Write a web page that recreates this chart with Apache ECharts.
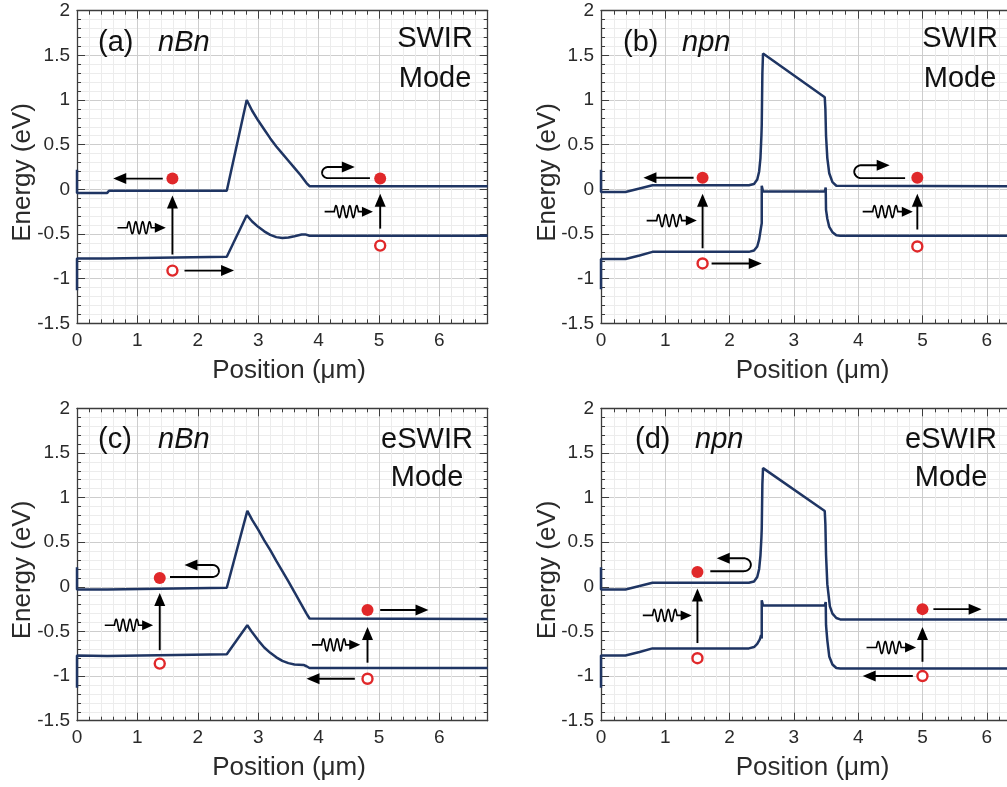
<!DOCTYPE html>
<html><head><meta charset="utf-8">
<script src="https://cdn.jsdelivr.net/npm/echarts@6.0.0/dist/echarts.min.js"></script>
<style>html,body{margin:0;padding:0;background:#fff}#c{width:1007px;height:787px}</style>
</head><body><div id="c"></div>
<script>
// ---------- DATA ----------
const panelLabels = ['(a)', '(b)', '(c)', '(d)'];
const structures = ['nBn', 'npn', 'nBn', 'npn'];
const modes = ['SWIR', 'SWIR', 'eSWIR', 'eSWIR'];
const xTitle = 'Position (μm)';
const yTitle = 'Energy (eV)';

// (a) nBn, SWIR mode
const cbA = [[0,0.22],[0,-0.04],[0.5,-0.04],[0.53,-0.015],[2.48,-0.015],[2.81,1.0],[2.9,0.88],[3.0,0.77],[3.1,0.67],[3.2,0.57],[3.3,0.48],[3.4,0.40],[3.5,0.32],[3.6,0.24],[3.7,0.16],[3.8,0.07],[3.85,0.035],[6.8,0.035]];
const vbA = [[0,-1.13],[0,-0.775],[0.5,-0.775],[0.53,-0.755],[2.48,-0.755],[2.81,-0.29],[2.9,-0.36],[3.0,-0.42],[3.1,-0.47],[3.2,-0.51],[3.3,-0.535],[3.4,-0.545],[3.5,-0.54],[3.6,-0.525],[3.72,-0.505],[3.78,-0.505],[3.85,-0.52],[6.8,-0.52]];
const electronsA = [[1.58,0.12],[5.02,0.12]];
const holesA = [[1.58,-0.91],[5.02,-0.63]];
const arrowsA = [[1.42,0.12,0.6,0.12],[1.58,-0.73,1.58,-0.07],[1.78,-0.91,2.6,-0.91],[5.02,-0.44,5.02,-0.05]];
const photonsA = [[0.67,1.47,-0.43],[4.1,4.9,-0.25]];
const uturnsA = [[4.85,0.125,4.16,0.25,4.6]];

// (b) npn, SWIR mode
const cbB = [[0,0.22],[0,-0.03],[0.38,-0.03],[0.6,0.01],[0.8,0.045],[2.3,0.045],[2.38,0.06],[2.43,0.11],[2.46,0.2],[2.48,0.35],[2.495,0.6],[2.5,0.72],[2.51,1.3],[2.52,1.52],[3.48,1.03],[3.49,0.9],[3.5,0.6],[3.52,0.35],[3.55,0.18],[3.6,0.08],[3.66,0.04],[6.8,0.035]];
const vbB = [[0,-1.12],[0,-0.78],[0.38,-0.78],[0.6,-0.74],[0.8,-0.70],[2.3,-0.70],[2.38,-0.685],[2.43,-0.64],[2.46,-0.56],[2.48,-0.47],[2.5,-0.38],[2.5,0.04],[2.52,-0.025],[3.48,-0.025],[3.495,0.02],[3.5,-0.23],[3.52,-0.33],[3.55,-0.42],[3.6,-0.48],[3.66,-0.515],[3.72,-0.52],[6.8,-0.52]];
const electronsB = [[1.58,0.13],[4.92,0.13]];
const holesB = [[1.58,-0.83],[4.92,-0.64]];
const arrowsB = [[1.44,0.13,0.66,0.13],[1.58,-0.66,1.58,-0.05],[1.72,-0.83,2.5,-0.83],[4.92,-0.45,4.92,-0.05]];
const photonsB = [[0.71,1.49,-0.35],[4.07,4.85,-0.25]];
const uturnsB = [[4.73,0.125,4.05,0.27,4.49]];

// (c) nBn, eSWIR mode
const cbC = [[0,0.22],[0,-0.03],[0.5,-0.03],[0.53,-0.01],[2.48,-0.01],[2.82,0.85],[2.9,0.75],[3.0,0.64],[3.1,0.52],[3.2,0.41],[3.3,0.29],[3.4,0.175],[3.5,0.06],[3.6,-0.06],[3.7,-0.18],[3.8,-0.3],[3.85,-0.355],[6.8,-0.36]];
const vbC = [[0,-1.13],[0,-0.77],[0.5,-0.775],[0.53,-0.755],[2.48,-0.755],[2.82,-0.43],[2.9,-0.51],[3.0,-0.6],[3.1,-0.68],[3.2,-0.74],[3.3,-0.79],[3.4,-0.83],[3.5,-0.855],[3.6,-0.87],[3.75,-0.875],[3.8,-0.89],[3.85,-0.91],[6.8,-0.91]];
const electronsC = [[1.37,0.10],[4.81,-0.26]];
const holesC = [[1.37,-0.86],[4.81,-1.03]];
const arrowsC = [[1.37,-0.71,1.37,-0.07],[5.02,-0.26,5.82,-0.26],[4.81,-0.85,4.81,-0.45],[4.6,-1.03,3.8,-1.03]];
const photonsC = [[0.46,1.26,-0.43],[3.89,4.69,-0.65]];
const uturnsC = [[1.54,0.11,2.24,0.245,1.78]];

// (d) npn, eSWIR mode
const cbD = [[0,0.22],[0,-0.03],[0.38,-0.03],[0.6,0.01],[0.8,0.045],[2.3,0.045],[2.38,0.06],[2.43,0.11],[2.46,0.2],[2.48,0.35],[2.495,0.55],[2.5,0.65],[2.51,1.15],[2.52,1.33],[3.48,0.85],[3.49,0.7],[3.5,0.36],[3.52,0.03],[3.56,-0.22],[3.6,-0.3],[3.66,-0.35],[3.72,-0.365],[6.8,-0.365]];
const vbD = [[0,-1.13],[0,-0.77],[0.38,-0.77],[0.6,-0.73],[0.8,-0.69],[2.3,-0.69],[2.38,-0.675],[2.43,-0.64],[2.47,-0.59],[2.49,-0.54],[2.5,-0.58],[2.5,-0.15],[2.52,-0.21],[3.48,-0.21],[3.495,-0.17],[3.5,-0.43],[3.52,-0.6],[3.55,-0.78],[3.6,-0.87],[3.66,-0.91],[3.72,-0.915],[6.8,-0.915]];
const electronsD = [[1.5,0.165],[5.0,-0.25]];
const holesD = [[1.5,-0.8],[5.0,-1.0]];
const arrowsD = [[1.5,-0.63,1.5,-0.02],[5.17,-0.25,5.92,-0.25],[5.0,-0.84,5.0,-0.45],[4.85,-1.0,4.07,-1.0]];
const photonsD = [[0.65,1.41,-0.32],[4.13,4.9,-0.68]];
const uturnsD = [[1.7,0.175,2.22,0.32,1.8]];

// ---------- STYLE / LAYOUT ----------
const FONT = "'Liberation Sans', Arial, sans-serif";
const BAND = '#1f3563';
const RED = '#e0282a';
const AXC = '#3c3c3c';

const panels = [
  {grid:{left:77, top:10.7, width:410.7, height:312.6}, cb:cbA, vb:vbA, e:electronsA, h:holesA, ar:arrowsA, ph:photonsA, ut:uturnsA},
  {grid:{left:601, top:10.7, width:437.2, height:312.6}, cb:cbB, vb:vbB, e:electronsB, h:holesB, ar:arrowsB, ph:photonsB, ut:uturnsB},
  {grid:{left:77, top:408.3, width:410.7, height:312.4}, cb:cbC, vb:vbC, e:electronsC, h:holesC, ar:arrowsC, ph:photonsC, ut:uturnsC},
  {grid:{left:601, top:408.3, width:437.2, height:312.4}, cb:cbD, vb:vbD, e:electronsD, h:holesD, ar:arrowsD, ph:photonsD, ut:uturnsD}
];

function head(tip, d, len, half) {
  const bx = tip[0] - d[0]*len, by = tip[1] - d[1]*len;
  const nx = -d[1], ny = d[0];
  return {type:'polygon', shape:{points:[[tip[0],tip[1]],[bx+nx*half,by+ny*half],[bx-nx*half,by-ny*half]]}, style:{fill:'#000'}};
}
const HL = 13, HW = 5.5, LW = 1.9;

function renderArrow(params, api) {
  const p1 = api.coord([api.value(0), api.value(1)]);
  const p2 = api.coord([api.value(2), api.value(3)]);
  const dx = p2[0]-p1[0], dy = p2[1]-p1[1], L = Math.hypot(dx, dy);
  const d = [dx/L, dy/L];
  return {type:'group', children:[
    {type:'line', shape:{x1:p1[0], y1:p1[1], x2:p2[0]-d[0]*HL*0.7, y2:p2[1]-d[1]*HL*0.7}, style:{stroke:'#000', lineWidth:LW}},
    head(p2, d, HL, HW)
  ]};
}
function renderPhoton(params, api) {
  const p1 = api.coord([api.value(0), api.value(2)]);
  const p2 = api.coord([api.value(1), api.value(2)]);
  const L = p2[0]-p1[0], y = p1[1];
  const s0 = p1[0] + 0.2*L, s1 = p1[0] + 0.7*L;
  const pts = [[p1[0], y]];
  const N = 90;
  for (let k = 0; k <= N; k++) {
    const t = k/N;
    pts.push([s0 + t*(s1-s0), y - 6*Math.sin(t*3.5*2*Math.PI)]);
  }
  pts.push([p2[0]-8, y]);
  return {type:'group', children:[
    {type:'polyline', shape:{points:pts}, style:{stroke:'#000', lineWidth:1.6, fill:null}},
    head(p2, [1,0], 11, 5)
  ]};
}
function renderUturn(params, api) {
  const ps = api.coord([api.value(0), api.value(1)]);
  const pl = api.coord([api.value(2), api.value(1)]);
  const pt = api.coord([api.value(2), api.value(3)]);
  const pe = api.coord([api.value(4), api.value(3)]);
  const r = (pl[1]-pt[1])/2, cy = (pl[1]+pt[1])/2;
  const side = pl[0] < ps[0] ? -1 : 1;
  const pts = [ps, pl];
  for (let k = 0; k <= 30; k++) {
    const a = Math.PI/2 - k/30*Math.PI;
    pts.push([pl[0] + side*r*1.1*Math.cos(a), cy + r*Math.sin(a)]);
  }
  const dir = pe[0] > pt[0] ? 1 : -1;
  pts.push([pe[0] - dir*HL*0.7, pe[1]]);
  return {type:'group', children:[
    {type:'polyline', shape:{points:pts}, style:{stroke:'#000', lineWidth:LW, fill:null}},
    head(pe, [dir,0], HL, HW)
  ]};
}

const grids = [], xAxes = [], yAxes = [], series = [];
panels.forEach((p, i) => {
  grids.push(Object.assign({containLabel:false, outerBoundsMode:'none', show:false}, p.grid));
  ['bottom','top'].forEach(pos => {
    const main = pos === 'bottom';
    xAxes.push({type:'value', gridIndex:i, position:pos, min:0, max:6.8, interval:1,
      axisLine:{show:true, onZero:false, lineStyle:{color:AXC, width:1.3}},
      axisTick:{show:true, inside:true, length:8, lineStyle:{color:AXC, width:1}},
      minorTick:{show:true, splitNumber:5, length:4, lineStyle:{color:AXC, width:1}},
      splitLine:{show:main, lineStyle:{color:'#cdcdcd', width:1}},
      minorSplitLine:{show:main, lineStyle:{color:'#ececec', width:1}},
      axisLabel:{show:main, margin:8, fontSize:19, color:'#2a2a2a', fontFamily:FONT, showMaxLabel:false}
    });
  });
  ['left','right'].forEach(pos => {
    const main = pos === 'left';
    yAxes.push({type:'value', gridIndex:i, position:pos, min:-1.5, max:2, interval:0.5,
      axisLine:{show:true, onZero:false, lineStyle:{color:AXC, width:1.3}},
      axisTick:{show:true, inside:true, length:8, lineStyle:{color:AXC, width:1}},
      minorTick:{show:true, splitNumber:5, length:4, lineStyle:{color:AXC, width:1}},
      splitLine:{show:main, lineStyle:{color:'#cdcdcd', width:1}},
      minorSplitLine:{show:main, lineStyle:{color:'#ececec', width:1}},
      axisLabel:{show:main, margin:7, fontSize:19, color:'#2a2a2a', fontFamily:FONT}
    });
  });
  const xi = 2*i, yi = 2*i;
  [p.cb, p.vb].forEach((d, k) => series.push({type:'line', name:(k?'VB ':'CB ')+panelLabels[i], xAxisIndex:xi, yAxisIndex:yi, data:d,
    showSymbol:false, symbol:'none', lineStyle:{color:BAND, width:2.5, opacity:1}, itemStyle:{color:BAND}, z:3, clip:true}));
  series.push({type:'custom', xAxisIndex:xi, yAxisIndex:yi, data:p.ar, renderItem:renderArrow, z:4, silent:true});
  series.push({type:'custom', xAxisIndex:xi, yAxisIndex:yi, data:p.ph, renderItem:renderPhoton, z:4, silent:true});
  series.push({type:'custom', xAxisIndex:xi, yAxisIndex:yi, data:p.ut, renderItem:renderUturn, z:4, silent:true});
  series.push({type:'scatter', xAxisIndex:xi, yAxisIndex:yi, data:p.e, symbol:'circle', symbolSize:12, itemStyle:{color:RED, opacity:1}, z:5});
  series.push({type:'scatter', xAxisIndex:xi, yAxisIndex:yi, data:p.h, symbol:'circle', symbolSize:10, itemStyle:{color:'#fff', borderColor:RED, borderWidth:2.4, opacity:1}, z:5});
});

// text positions (pixels)
const txt = [];
const lab = [
  {lx:98, sx:158, ty:43, mx:435, m1:39, m2:79},
  {lx:623, sx:682, ty:43, mx:960, m1:39, m2:79},
  {lx:98, sx:158, ty:440, mx:427, m1:440, m2:478},
  {lx:635, sx:695, ty:440, mx:951, m1:440, m2:478}
];
lab.forEach((L, i) => {
  txt.push({type:'text', x:L.lx, y:L.ty, z:10, style:{text:panelLabels[i], font:'29px '+FONT, fill:'#111', textAlign:'left', textVerticalAlign:'middle'}});
  txt.push({type:'text', x:L.sx, y:L.ty, z:10, style:{text:structures[i], font:'italic 29px '+FONT, fill:'#111', textAlign:'left', textVerticalAlign:'middle'}});
  txt.push({type:'text', x:L.mx, y:L.m1, z:10, style:{text:modes[i], font:'29px '+FONT, fill:'#111', textAlign:'center', textVerticalAlign:'middle'}});
  txt.push({type:'text', x:L.mx, y:L.m2, z:10, style:{text:'Mode', font:'29px '+FONT, fill:'#111', textAlign:'center', textVerticalAlign:'middle'}});
});
const ttl = [
  {yx:23, yy:172.5, xx:289, xy:370.5},
  {yx:548, yy:172.5, xx:812.5, xy:370.5},
  {yx:23, yy:570, xx:289, xy:768},
  {yx:548, yy:570, xx:812.5, xy:768}
];
ttl.forEach(t => {
  txt.push({type:'text', x:t.yx, y:t.yy, rotation:Math.PI/2, z:10, style:{text:yTitle, font:'26px '+FONT, fill:'#2a2a2a', textAlign:'center', textVerticalAlign:'middle'}});
  txt.push({type:'text', x:t.xx, y:t.xy, z:10, style:{text:xTitle, font:'26px '+FONT, fill:'#2a2a2a', textAlign:'center', textVerticalAlign:'middle'}});
});

const chart = echarts.init(document.getElementById('c'), null, {renderer:'canvas'});
chart.setOption({
  animation:false,
  backgroundColor:'#fff',
  grid:grids, xAxis:xAxes, yAxis:yAxes, series:series, graphic:txt
});
</script></body></html>
